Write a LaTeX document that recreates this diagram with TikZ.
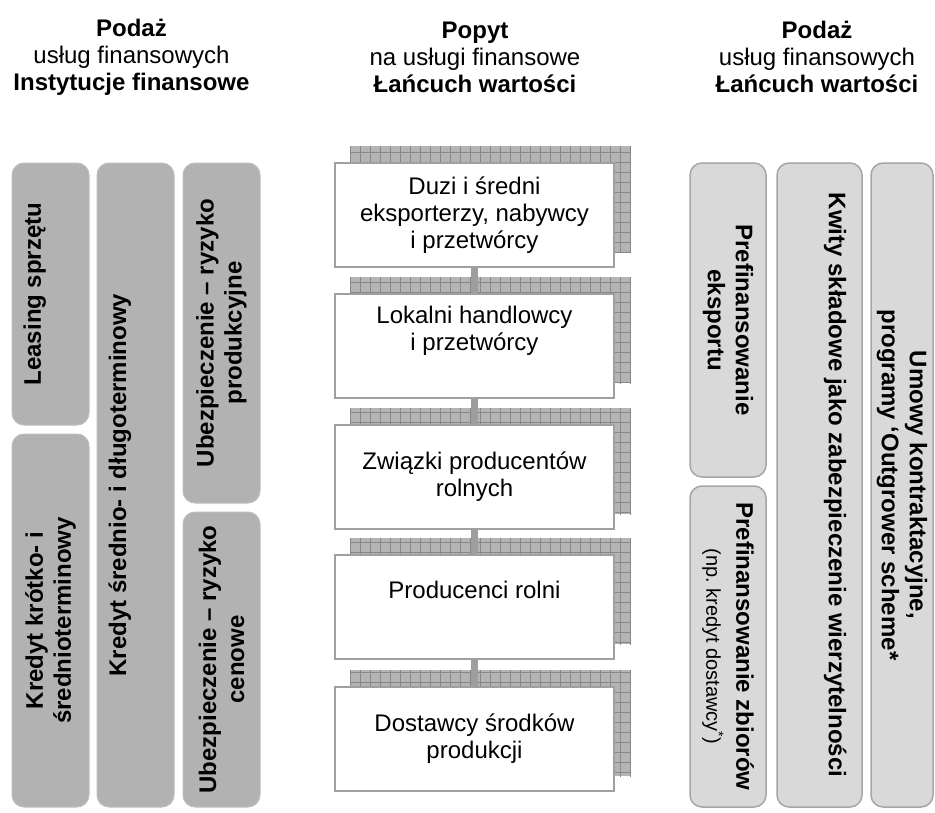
\documentclass[tikz,border=0pt]{standalone}
\usepackage{fontspec}
\setmainfont{Liberation Sans}
\usetikzlibrary{backgrounds,patterns.meta}
\definecolor{InstGray}{RGB}{178,178,178}
\definecolor{ChainGray}{RGB}{217,217,217}
\definecolor{ChainBorder}{RGB}{166,166,166}
\definecolor{StageBorder}{RGB}{160,160,160}
\definecolor{ShadowGray}{RGB}{180,180,180}
\definecolor{GridGray}{RGB}{135,135,135}
\definecolor{LinkGray}{RGB}{158,158,158}
\frenchspacing

\begin{document}
\begin{tikzpicture}[x=1pt, y=-1pt,
  every node/.style={font=\fontsize{24}{27}\selectfont, inner sep=0pt},
  inst/.style={rectangle, rounded corners=12pt, fill=InstGray, draw=InstGray!85!white, line width=1pt, rotate=90, align=center, font=\fontsize{24}{28}\selectfont\bfseries},
  chain/.style={rectangle, rounded corners=12pt, fill=ChainGray, draw=ChainBorder, line width=1.5pt, rotate=-90, align=center, font=\fontsize{24}{28}\selectfont\bfseries},
  stage/.style={rectangle, draw=StageBorder, fill=white, line width=2pt, minimum width=279pt, minimum height=104pt, align=center},
  link/.style={-, line width=7pt, draw=LinkGray}]
  \useasboundingbox (0,0) rectangle (935,812);

  \node[align=center] (hL) at (131.5,57) {\textbf{Podaż}\\usług finansowych\\\textbf{Instytucje finansowe}};
  \node[align=center] (hC) at (475,57) {\textbf{Popyt}\\na usługi finansowe\\\textbf{Łańcuch wartości}};
  \node[align=center] (hR) at (817,57) {\textbf{Podaż}\\usług finansowych\\\textbf{Łańcuch wartości}};

  \node[inst, minimum width=262pt, minimum height=77pt] (leasing) at (50.5,294) {Leasing sprzętu\\\strut};
  \node[inst, minimum width=373pt, minimum height=77pt] (kredytkr) at (50.5,620.5) {Kredyt krótko- i\\średnioterminowy};
  \node[inst, minimum width=644pt, minimum height=77pt] (kredytsr) at (135.5,485) {Kredyt średnio- i długoterminowy\\\strut};
  \node[inst, minimum width=340pt, minimum height=77pt] (ubezprod) at (221.5,333) {Ubezpieczenie – ryzyko\\produkcyjne};
  \node[inst, minimum width=295pt, minimum height=77pt] (ubezcen) at (221.5,659.5) {Ubezpieczenie – ryzyko\\cenowe};

  \node[stage] (duzi) at (474.5,215) {Duzi i średni\\eksporterzy, nabywcy\\i przetwórcy};
  \node[stage] (lokalni) at (474.5,346) {Lokalni handlowcy\\i przetwórcy\\\strut};
  \node[stage] (zwiazki) at (474.5,477) {Związki producentów\\rolnych};
  \node[stage] (producenci) at (474.5,607) {Producenci rolni\\\strut};
  \node[stage] (dostawcy) at (474.5,739) {Dostawcy środków\\produkcji};

  \begin{scope}[on background layer]
    \foreach \n in {duzi,lokalni,zwiazki,producenci,dostawcy}{
      \fill[ShadowGray] ([shift={(16,-16)}]\n.south west) rectangle ([shift={(16,-16)}]\n.north east);
      \fill[pattern={Hatch[distance=10pt,angle=0,line width=0.6pt]}, pattern color=GridGray] ([shift={(16,-16)}]\n.south west) rectangle ([shift={(16,-16)}]\n.north east);
    }
  \end{scope}
  \draw[link] (duzi) -- (lokalni);
  \draw[link] (lokalni) -- (zwiazki);
  \draw[link] (zwiazki) -- (producenci);
  \draw[link] (producenci) -- (dostawcy);

  \node[chain, minimum width=314pt, minimum height=76pt] (eksport) at (728,320) {Prefinansowanie\\eksportu};
  \node[chain, minimum width=321pt, minimum height=76pt] (zbiory) at (728,646.5) {Prefinansowanie zbiorów\\[2pt]{\fontsize{20}{22}\selectfont\mdseries (np. kredyt dostawcy\textsuperscript{*})}};
  \node[chain, minimum width=644pt, minimum height=85pt] (kwity) at (819.5,485) {Kwity składowe jako zabezpieczenie wierzytelności\\\strut};
  \node[chain, minimum width=644pt, minimum height=62pt] (umowy) at (902,485) {Umowy kontraktacyjne,\\programy ‘Outgrower scheme*};
\end{tikzpicture}
\end{document}
